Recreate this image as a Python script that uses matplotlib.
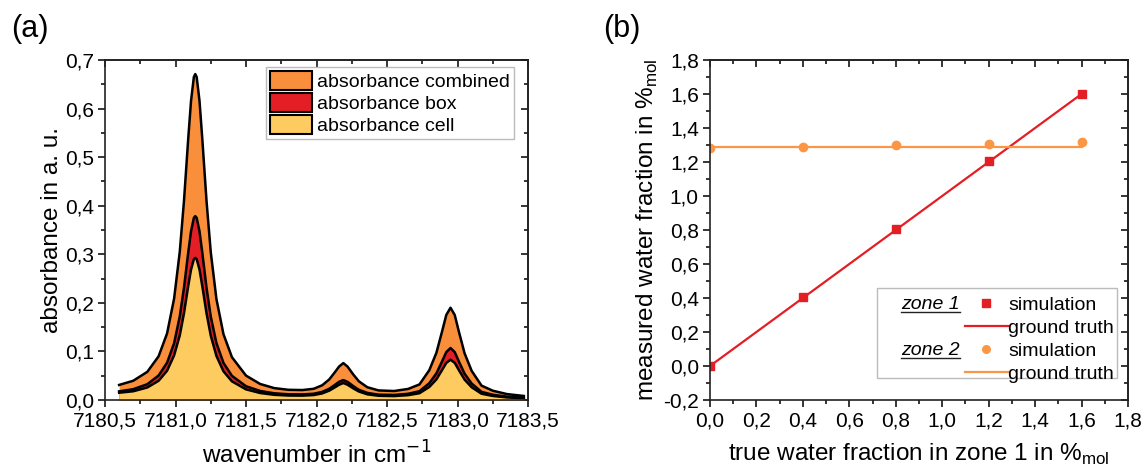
import matplotlib
matplotlib.use("Agg")
import matplotlib.pyplot as plt
from matplotlib.ticker import MultipleLocator, FuncFormatter, NullFormatter
from matplotlib.patches import Patch, Rectangle
from matplotlib.lines import Line2D

plt.rcParams['font.family'] = ['Liberation Sans', 'DejaVu Sans']

# ---- panel (a): absorbance spectra ----
wavenumber = [7180.60, 7180.70, 7180.80, 7180.88, 7180.94, 7180.99, 7181.03, 7181.06,
              7181.09, 7181.11, 7181.13, 7181.14, 7181.15, 7181.17, 7181.19, 7181.22,
              7181.25, 7181.29, 7181.34, 7181.40, 7181.50, 7181.60, 7181.70, 7181.80,
              7181.90, 7181.98, 7182.04, 7182.09, 7182.13, 7182.16, 7182.19, 7182.22,
              7182.26, 7182.30, 7182.36, 7182.44, 7182.55, 7182.65, 7182.73, 7182.80,
              7182.85, 7182.89, 7182.92, 7182.95, 7182.98, 7183.01, 7183.05, 7183.10,
              7183.17, 7183.25, 7183.35, 7183.47]
abs_combined = [0.0310, 0.0396, 0.0580, 0.0900, 0.1370, 0.2090, 0.3050, 0.4100,
                0.5380, 0.6160, 0.6650, 0.6710, 0.6650, 0.6160, 0.5370, 0.4090,
                0.3040, 0.2080, 0.1355, 0.0881, 0.0502, 0.0330, 0.0245, 0.0210,
                0.0205, 0.0231, 0.0303, 0.0423, 0.0572, 0.0689, 0.0760, 0.0687,
                0.0527, 0.0385, 0.0263, 0.0197, 0.0185, 0.0228, 0.0321, 0.0616,
                0.0973, 0.1410, 0.1750, 0.1900, 0.1750, 0.1400, 0.0960, 0.0600,
                0.0296, 0.0191, 0.0122, 0.0083]
abs_box = [0.0178, 0.0222, 0.0325, 0.0504, 0.0767, 0.1170, 0.1720, 0.2313,
           0.3034, 0.3474, 0.3751, 0.3785, 0.3751, 0.3474, 0.3029, 0.2307,
           0.1715, 0.1173, 0.0764, 0.0497, 0.0283, 0.0186, 0.0138, 0.0118,
           0.0115, 0.0129, 0.0167, 0.0230, 0.0311, 0.0375, 0.0410, 0.0373,
           0.0287, 0.0210, 0.0146, 0.0110, 0.0104, 0.0128, 0.0181, 0.0347,
           0.0548, 0.0794, 0.0986, 0.1070, 0.0986, 0.0788, 0.0541, 0.0338,
           0.0167, 0.0108, 0.0069, 0.0047]
abs_cell = [0.0150, 0.0180, 0.0258, 0.0396, 0.0603, 0.0920, 0.1330, 0.1787,
            0.2346, 0.2686, 0.2899, 0.2925, 0.2899, 0.2686, 0.2341, 0.1783,
            0.1325, 0.0907, 0.0591, 0.0384, 0.0219, 0.0144, 0.0107, 0.0092,
            0.0090, 0.0102, 0.0136, 0.0193, 0.0261, 0.0314, 0.0350, 0.0314,
            0.0240, 0.0175, 0.0117, 0.0087, 0.0081, 0.0100, 0.0140, 0.0269,
            0.0425, 0.0616, 0.0764, 0.0830, 0.0764, 0.0612, 0.0419, 0.0262,
            0.0129, 0.0083, 0.0053, 0.0036]

# ---- panel (b): water fraction ----
true_frac = [0.0, 0.4, 0.8, 1.2, 1.6]
zone1_sim = [0.0, 0.405, 0.805, 1.205, 1.60]
zone2_sim = [1.28, 1.29, 1.30, 1.305, 1.315]
zone1_truth = [0.0, 1.6]
zone2_truth = [1.29, 1.29]
truth_x = [0.0, 1.6]

c_orange = '#F98E3B'
c_red = '#E31E24'
c_yellow = '#FDCB5F'
c_line_or = '#FA9646'


def comma(v, pos):
    v = round(v, 6) + 0.0
    return f"{v:.1f}".replace('.', ',')


def style_axes(ax, xmaj, xmin, ymaj, ymin):
    ax.xaxis.set_major_locator(MultipleLocator(xmaj))
    ax.xaxis.set_minor_locator(MultipleLocator(xmin))
    ax.yaxis.set_major_locator(MultipleLocator(ymaj))
    ax.yaxis.set_minor_locator(MultipleLocator(ymin))
    ax.xaxis.set_major_formatter(FuncFormatter(comma))
    ax.yaxis.set_major_formatter(FuncFormatter(comma))
    ax.tick_params(which='both', labelsize=15, pad=3, width=1.1, direction='out')
    ax.tick_params(which='major', length=5)
    ax.tick_params(which='minor', length=3)
    for s in ax.spines.values():
        s.set_linewidth(1.2)
        s.set_color('#222222')
    # top / right ticks point inward
    top = ax.secondary_xaxis('top')
    right = ax.secondary_yaxis('right')
    top.xaxis.set_major_locator(MultipleLocator(xmaj))
    top.xaxis.set_minor_locator(MultipleLocator(xmin))
    right.yaxis.set_major_locator(MultipleLocator(ymaj))
    right.yaxis.set_minor_locator(MultipleLocator(ymin))
    for sec in (top, right):
        sec.tick_params(which='both', direction='in', width=1.1, labelsize=0)
        sec.tick_params(which='major', length=5)
        sec.tick_params(which='minor', length=3)
        sec.xaxis.set_major_formatter(NullFormatter())
        sec.yaxis.set_major_formatter(NullFormatter())
        for s in sec.spines.values():
            s.set_linewidth(1.2)
            s.set_color('#222222')


fig = plt.figure(figsize=(11.44, 4.68), dpi=100)
ax1 = fig.add_axes([0.0918, 0.1453, 0.3698, 0.7265])
ax2 = fig.add_axes([0.6206, 0.1453, 0.3654, 0.7265])

# panel (a)
ax1.fill_between(wavenumber, abs_combined, 0, color=c_orange, lw=0)
ax1.fill_between(wavenumber, abs_box, 0, color=c_red, lw=0)
ax1.fill_between(wavenumber, abs_cell, 0, color=c_yellow, lw=0)
for y in (abs_combined, abs_box, abs_cell):
    ax1.plot(wavenumber, y, color='black', lw=1.8)
ax1.set_xlim(7180.5, 7183.5)
ax1.set_ylim(0, 0.7)
style_axes(ax1, 0.5, 0.25, 0.1, 0.05)
ax1.set_xlabel('wavenumber in cm$^{-1}$', fontsize=17.5)
ax1.set_ylabel('absorbance in a. u.', fontsize=17.5, labelpad=1)
ax1.xaxis.set_label_coords(0.5, -0.121)
handles_a = [Patch(facecolor=c_orange, edgecolor='black', lw=1.5),
             Patch(facecolor=c_red, edgecolor='black', lw=1.5),
             Patch(facecolor=c_yellow, edgecolor='black', lw=1.5)]
leg1 = ax1.legend(handles_a, ['absorbance combined', 'absorbance box', 'absorbance cell'],
                  loc='upper right', bbox_to_anchor=(0.967, 0.979), borderaxespad=0,
                  fontsize=14, handlelength=2.15, handleheight=1.13, labelspacing=0.1,
                  handletextpad=0.3, borderpad=0.2, fancybox=False, framealpha=1)
leg1.get_frame().set_edgecolor('#BBBBBB')
leg1.get_frame().set_linewidth(1.0)

# panel (b)
ax2.plot(truth_x, zone1_truth, color=c_red, lw=1.6)
ax2.plot(truth_x, zone2_truth, color=c_line_or, lw=1.6)
ax2.plot(true_frac, zone1_sim, 's', color=c_red, ms=6, lw=0)
ax2.plot(true_frac, zone2_sim, 'o', color=c_line_or, ms=6, lw=0)
ax2.set_xlim(0, 1.8)
ax2.set_ylim(-0.2, 1.8)
style_axes(ax2, 0.2, 0.1, 0.2, 0.1)
ax2.set_xlabel('true water fraction in zone 1 in %$_{\\mathregular{mol}}$', fontsize=17.5)
ax2.set_ylabel('measured water fraction in %$_{\\mathregular{mol}}$', fontsize=17.5, labelpad=2)
ax2.xaxis.set_label_coords(0.5, -0.124)

# legend (b) : frame + zone labels + entries
ax2.add_patch(Rectangle((0.40, 0.0647), 0.573, 0.264, transform=ax2.transAxes,
                        facecolor='white', edgecolor='#BBBBBB', lw=1.0, zorder=4))
handles_b = [Line2D([], [], ls='', marker='s', color=c_red, ms=5.5),
             Line2D([], [], color=c_red, lw=1.6),
             Line2D([], [], ls='', marker='o', color=c_line_or, ms=5.5),
             Line2D([], [], color=c_line_or, lw=1.6)]
leg2 = ax2.legend(handles_b, ['simulation', 'ground truth', 'simulation', 'ground truth'],
                  loc='upper left', bbox_to_anchor=(0.61, 0.306), borderaxespad=0,
                  borderpad=0, frameon=False, fontsize=14, handlelength=2.2,
                  handletextpad=0.02, labelspacing=0.28)
leg2.set_zorder(5)
zone_texts = []
for lbl, yf in (('zone 1', 0.282), ('zone 2', 0.147)):
    t = ax2.text(0.597, yf, lbl, transform=ax2.transAxes, ha='right', va='center',
                 fontsize=14, style='italic', zorder=6)
    zone_texts.append(t)

fig.text(0.010, 0.938, '(a)', fontsize=22, va='center')
fig.text(0.527, 0.938, '(b)', fontsize=22, va='center')

# underline the zone labels
fig.canvas.draw()
inv = fig.transFigure.inverted()
for t in zone_texts:
    bb = t.get_window_extent()
    (x0, y0), (x1, _) = inv.transform([(bb.x0, bb.y0 + 1), (bb.x1, bb.y0)])
    fig.add_artist(Line2D([x0, x1], [y0, y0], color='#222222', lw=1.0, zorder=7))

fig.savefig('out.png', dpi=100)
